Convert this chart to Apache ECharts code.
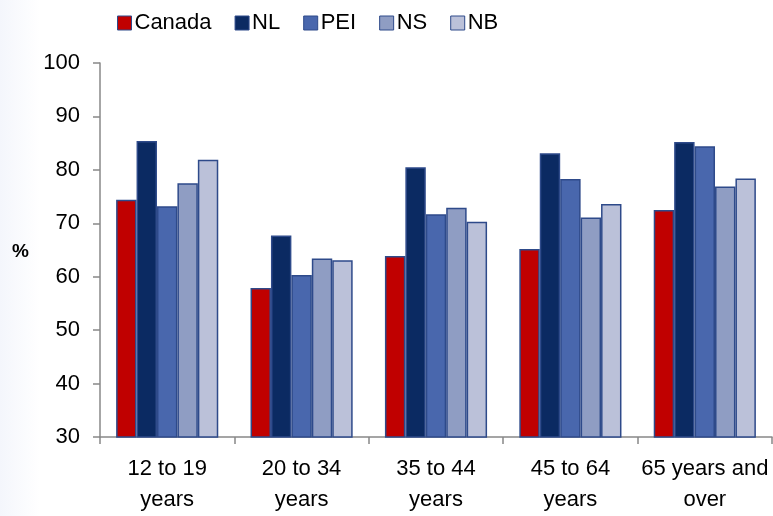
<!DOCTYPE html>
<html>
<head>
<meta charset="utf-8">
<script src="https://cdn.jsdelivr.net/npm/echarts@6/dist/echarts.min.js"></script>
<style>
  html, body { margin: 0; padding: 0; background: #ffffff; }
  #chart { width: 773px; height: 516px; }
</style>
</head>
<body>
<div id="chart"></div>
<script>
// Age groups along the x axis
const categories = ['12 to 19\nyears', '20 to 34\nyears', '35 to 44\nyears', '45 to 64\nyears', '65 years and\nover'];

// Percentages per region, one value per age group
const canada = [74.4, 57.9, 63.9, 65.2, 72.5];
const nl     = [85.4, 67.7, 80.5, 83.1, 85.2];
const pei    = [73.2, 60.3, 71.7, 78.3, 84.4];
const ns     = [77.5, 63.4, 72.9, 71.1, 76.9];
const nb     = [81.9, 63.1, 70.3, 73.6, 78.4];

const seriesNames = ['Canada', 'NL', 'PEI', 'NS', 'NB'];
const seriesData = [canada, nl, pei, ns, nb];
const seriesColors = ['#c00000', '#0b2a62', '#4967ad', '#8f9dc3', '#bbc1d9'];

const FONT = '"Liberation Sans", Arial, sans-serif';

const chart = echarts.init(document.getElementById('chart'), null, { renderer: 'canvas' });

chart.setOption({
  backgroundColor: '#ffffff',
  animation: false,
  graphic: [{
    type: 'rect',
    left: 0, top: 0, z: -10,
    shape: { width: 40, height: 516 },
    style: {
      fill: new echarts.graphic.LinearGradient(0, 0, 1, 0, [
        { offset: 0, color: '#f4f6fc' },
        { offset: 1, color: '#ffffff' }
      ])
    },
    silent: true
  }, {
    type: 'text',
    left: 12, top: 242,
    style: { text: '%', font: 'bold 19px ' + FONT, fill: '#000' },
    silent: true
  }],
  legend: {
    top: 7,
    left: 112,
    itemWidth: 14,
    itemHeight: 14,
    itemGap: 23,
    icon: 'rect',
    textStyle: { fontFamily: FONT, fontSize: 22, color: '#000', padding: [0, 0, 0, -2] },
    data: seriesNames.map(function (n, i) {
      return { name: n, itemStyle: { color: seriesColors[i], borderColor: '#2e4a8a', borderWidth: 1 } };
    })
  },
  grid: { left: 100, right: 1, top: 63, bottom: 79, containLabel: false },
  xAxis: {
    type: 'category',
    data: categories,
    boundaryGap: true,
    axisLine: { lineStyle: { color: '#888', width: 1.5 } },
    axisTick: { show: true, length: 7, lineStyle: { color: '#888', width: 1.5 } },
    axisLabel: {
      fontFamily: FONT, fontSize: 22, color: '#000', margin: 16,
      lineHeight: 31, interval: 0
    }
  },
  yAxis: {
    type: 'value',
    min: 30,
    max: 100,
    interval: 10,
    axisLine: { show: true, lineStyle: { color: '#888', width: 1.5 } },
    axisTick: { show: true, length: 7, lineStyle: { color: '#888', width: 1.5 } },
    splitLine: { show: false },
    axisLabel: { fontFamily: FONT, fontSize: 22, color: '#000', margin: 20 }
  },
  series: seriesNames.map(function (n, i) {
    return {
      name: n,
      type: 'bar',
      data: seriesData[i],
      barGap: '0%',
      barCategoryGap: '24%',
      itemStyle: { color: seriesColors[i], borderColor: '#2e4a8a', borderWidth: 1.5 }
    };
  })
});
</script>
</body>
</html>
